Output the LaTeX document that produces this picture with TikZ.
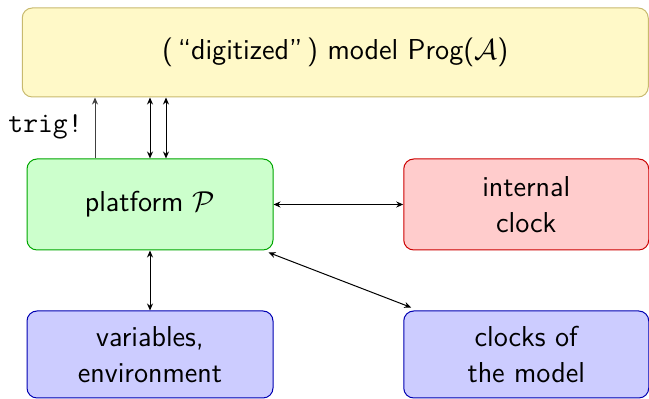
\documentclass[tikz,border=0pt]{standalone}
\usetikzlibrary{arrows.meta}
\definecolor{ylfill}{RGB}{255,249,200}
\definecolor{yldraw}{RGB}{200,186,110}
\begin{document}
\begin{tikzpicture}[x=0.5pt,y=-0.5pt,
  box/.style={draw,rounded corners=5pt,inner sep=0pt,align=center,font=\sffamily\Large,line width=0.5pt},
  conn/.style={{Stealth[length=3.5pt,width=3pt]}-{Stealth[length=3.5pt,width=3pt]},line width=0.5pt},
  oneway/.style={-{Stealth[length=3.5pt,width=3pt]},line width=0.5pt,draw=black!75}]
\useasboundingbox (0,0) rectangle (649,399);
\node[box,fill=ylfill,draw=yldraw,minimum width=313pt,minimum height=44.5pt] (model) at (335.25,52.5) {(\,``digitized''\,) model Prog($\mathcal{A}$)};
\node[box,fill=green!20,draw=green!65!black,minimum width=123pt,minimum height=45.5pt] (plat) at (150,204.5) {platform $\mathcal{P}$};
\node[box,fill=red!20,draw=red!80!black,minimum width=122.5pt,minimum height=45.5pt] (iclk) at (526.25,204.5) {internal\\clock};
\node[box,fill=blue!20,draw=blue!70!black,minimum width=123pt,minimum height=43.5pt] (vars) at (150,354.5) {variables,\\environment};
\node[box,fill=blue!20,draw=blue!70!black,minimum width=122.5pt,minimum height=43.5pt] (mclk) at (526.25,354.5) {clocks of\\the model};
\draw[oneway] ([xshift=-27.5pt]plat.north) -- ([xshift=-27.5pt]plat.north |- model.south);
\node[font=\ttfamily\Large,anchor=east,inner sep=0pt] (trig) at (83,127) {trig!};
\draw[conn] (plat.north) -- (plat.north |- model.south);
\draw[conn] ([xshift=8pt]plat.north) -- ([xshift=8pt]plat.north |- model.south);
\draw[conn] (plat.east) -- (iclk.west);
\draw[conn] (plat.south) -- (vars.north);
\draw[conn] ([xshift=-2.5pt,yshift=-1pt]plat.south east) -- ([xshift=4pt,yshift=1.5pt]mclk.north west);
\end{tikzpicture}
\end{document}
